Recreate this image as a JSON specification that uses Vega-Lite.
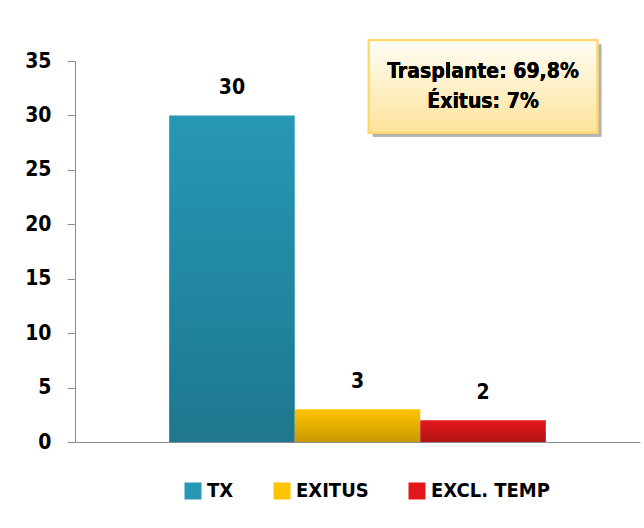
{
  "$schema": "https://vega.github.io/schema/vega-lite/v6.json",
  "width": 565,
  "height": 381,
  "padding": {"left": 75, "top": 61, "right": 4, "bottom": 86},
  "autosize": {"type": "none"},
  "background": "white",
  "config": {
    "view": {"stroke": null},
    "font": "DejaVu Sans Condensed, Liberation Sans, sans-serif"
  },
  "data": {
    "values": [
      {"cat": "TX", "n": 30},
      {"cat": "EXITUS", "n": 3},
      {"cat": "EXCL. TEMP", "n": 2}
    ]
  },
  "encoding": {
    "x": {
      "field": "cat",
      "type": "nominal",
      "sort": ["TX", "EXITUS", "EXCL. TEMP"],
      "scale": {"paddingInner": 0, "paddingOuter": 0.75},
      "axis": {"labels": false, "ticks": false, "title": null, "domainColor": "#8c8c8c", "domainWidth": 1}
    }
  },
  "layer": [
    {
      "mark": {"type": "bar", "strokeWidth": 0},
      "encoding": {
        "y": {
          "field": "n",
          "type": "quantitative",
          "scale": {"domain": [0, 35], "nice": false},
          "axis": {
            "values": [0, 5, 10, 15, 20, 25, 30, 35],
            "title": null,
            "grid": false,
            "domainColor": "#8c8c8c",
            "tickColor": "#8c8c8c",
            "tickSize": 8,
            "labelPadding": 16,
            "labelFontSize": 21,
            "labelFontWeight": "bold",
            "labelColor": "#000000",
            "labelFont": "DejaVu Sans Condensed, Liberation Sans, sans-serif"
          }
        },
        "fill": {
          "field": "cat",
          "type": "nominal",
          "sort": ["TX", "EXITUS", "EXCL. TEMP"],
          "scale": {
            "domain": ["TX", "EXITUS", "EXCL. TEMP"],
            "range": ["#2698b6", "#ffc400", "#e4181c"]
          },
          "legend": {
            "orient": "none",
            "legendX": 108,
            "legendY": 420,
            "direction": "horizontal",
            "title": null,
            "symbolType": "square",
            "symbolSize": 289,
            "symbolStrokeWidth": 0,
            "symbolOpacity": 1,
            "labelFontSize": 20,
            "labelFontWeight": "bold",
            "labelColor": "#000000",
            "labelOffset": 4,
            "columnPadding": 38,
            "labelFont": "DejaVu Sans Condensed, Liberation Sans, sans-serif"
          }
        }
      }
    },
    {
      "mark": {
        "type": "bar",
        "strokeWidth": 0,
        "fill": {"gradient": "linear", "x1": 0, "y1": 0, "x2": 0, "y2": 1, "stops": [{"offset": 0, "color": "rgba(0,0,0,0)"}, {"offset": 1, "color": "rgba(0,0,0,0.22)"}]}
      },
      "encoding": {
        "y": {"field": "n", "type": "quantitative"}
      }
    },
    {
      "mark": {"type": "text", "dy": -27, "fontSize": 21, "fontWeight": "bold", "color": "#000000"},
      "encoding": {
        "y": {"field": "n", "type": "quantitative"},
        "text": {"field": "n", "type": "quantitative"}
      }
    },
    {
      "mark": {"type": "rect", "color": "#b0b0b0", "opacity": 0.7, "xOffset": 4, "x2Offset": 4, "yOffset": 4, "y2Offset": 4},
      "encoding": {
        "x": {"datum": "EXITUS", "bandPosition": 0.59},
        "x2": {"datum": "EXCL. TEMP", "bandPosition": 1.41},
        "y": {"datum": 36.9},
        "y2": {"datum": 28.4}
      }
    },
    {
      "mark": {
        "type": "rect",
        "stroke": "#fcd86a",
        "strokeWidth": 2,
        "fill": {"gradient": "linear", "x1": 0, "y1": 0, "x2": 0, "y2": 1, "stops": [{"offset": 0, "color": "#fffdf5"}, {"offset": 1, "color": "#fde39a"}]}
      },
      "encoding": {
        "x": {"datum": "EXITUS", "bandPosition": 0.59},
        "x2": {"datum": "EXCL. TEMP", "bandPosition": 1.41},
        "y": {"datum": 36.9},
        "y2": {"datum": 28.4}
      }
    },
    {
      "mark": {"type": "text", "fontSize": 21, "fontWeight": "bold", "color": "#000000", "lineHeight": 30, "align": "center", "baseline": "middle"},
      "encoding": {
        "x": {"datum": "EXCL. TEMP", "bandPosition": 0.5},
        "y": {"datum": 33.95},
        "text": {"value": ["Trasplante: 69,8%", "Éxitus: 7%"]}
      }
    }
  ]
}
